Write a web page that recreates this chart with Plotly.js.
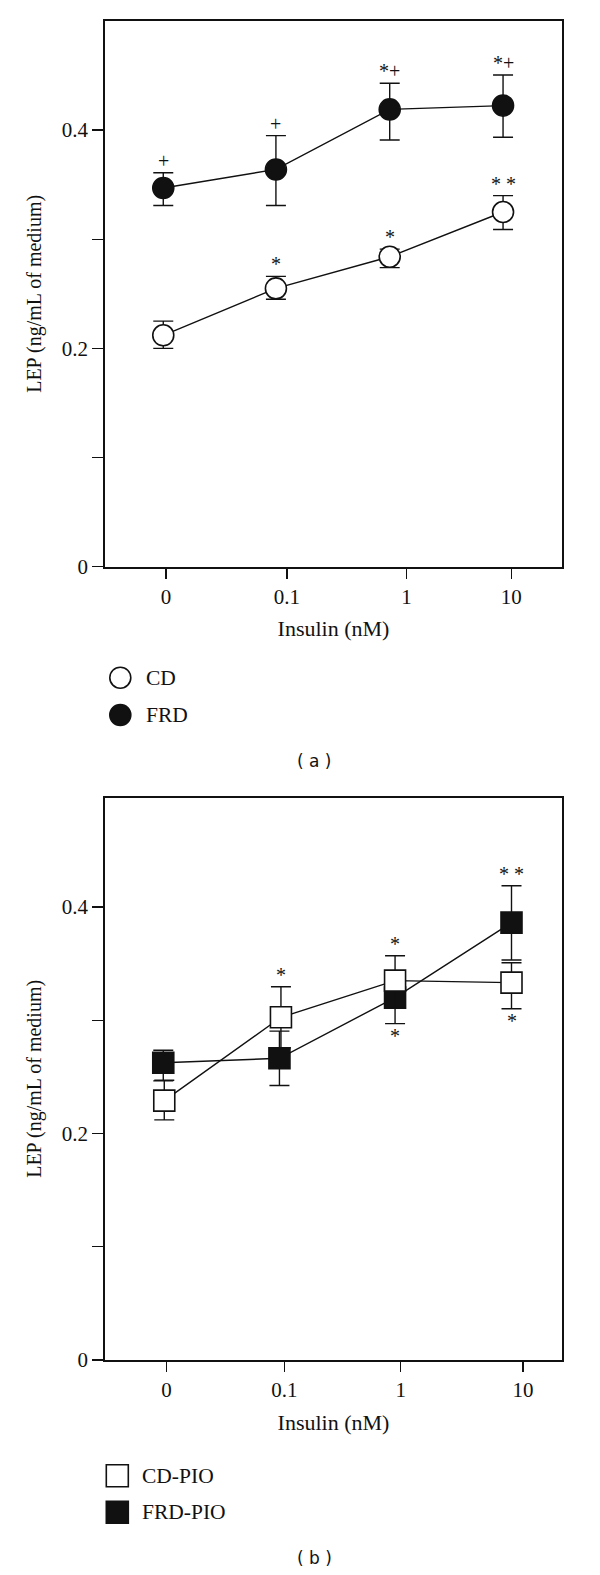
<!DOCTYPE html>
<html><head><meta charset="utf-8">
<script src="https://cdn.plot.ly/plotly-3.0.1.min.js"></script>
<style>body{margin:0;background:#fff}#chart{width:600px;height:1575px}</style>
</head><body><div id="chart"></div>
<script>
// ---------- data ----------
const doseLabels = ['0', '0.1', '1', '10'];
// positions of the dose categories on the (non-uniform) dose axis, in axis units
const tickPosA = [0.1334, 0.398, 0.6597, 0.889];
const xPosA = [0.1275, 0.374, 0.623, 0.871];
const tickPosB = [0.1347, 0.3924, 0.6472, 0.9148];
const xPosB_CD = [0.1297, 0.385, 0.6347, 0.8895];
const xPosB_FRD = [0.1275, 0.3817, 0.6347, 0.8895];

// panel (a)
const cdMean = [0.212, 0.255, 0.284, 0.325];
const cdErrUp = [0.013, 0.011, 0.007, 0.015];
const cdErrDown = [0.012, 0.010, 0.010, 0.016];
const frdMean = [0.347, 0.364, 0.419, 0.4225];
const frdErrUp = [0.014, 0.031, 0.024, 0.028];
const frdErrDown = [0.016, 0.033, 0.028, 0.029];
const cdSigAbove = ['', '*', '*', '* *'];
const frdSigAbove = ['+', '+', '*+', '*+'];

// panel (b)
const cdPioMean = [0.229, 0.3026, 0.335, 0.3332];
const cdPioErrUp = [0.018, 0.027, 0.022, 0.0176];
const cdPioErrDown = [0.017, 0.027, 0.0245, 0.023];
const frdPioMean = [0.2625, 0.2664, 0.320, 0.3862];
const frdPioErrUp = [0.011, 0.024, 0.023, 0.0326];
const frdPioErrDown = [0.016, 0.024, 0.023, 0.033];
const cdPioSigAbove = ['', '*', '*', ''];
const cdPioSigBelow = ['', '', '', '*'];
const frdPioSigAbove = ['', '', '', '* *'];
const frdPioSigBelow = ['', '', '*', ''];

const yTickVals = [0, 0.1, 0.2, 0.3, 0.4];
const yTickText = ['0', '', '0.2', '', '0.4'];
const namesA = ['CD', 'FRD'];
const namesB = ['CD-PIO', 'FRD-PIO'];

// ---------- layout constants ----------
const W = 600, H = 1575, ML = 105, MR = 38, MT = 21, MB = 215;
const PW = W - ML - MR, PH = H - MT - MB;
const px = v => (v - ML) / PW;          // pixel x -> paper
const py = v => (H - MB - v) / PH;      // pixel y -> paper
const SERIF = "'Liberation Serif', 'Times New Roman', serif";
const BLACK = '#111';

function lineTrace(x, y, up, down, xa, ya) {
  return {
    x: x, y: y, xaxis: xa, yaxis: ya, mode: 'lines', showlegend: false, hoverinfo: 'skip',
    line: {color: BLACK, width: 1.4},
    error_y: {type: 'data', symmetric: false, array: up, arrayminus: down,
              color: BLACK, thickness: 1.4, width: 10}
  };
}
function markerTrace(x, y, xa, ya, symbol, fill, name) {
  return {
    x: x, y: y, xaxis: xa, yaxis: ya, mode: 'markers', name: name, showlegend: false,
    marker: {symbol: symbol, size: 21, color: fill, line: {color: BLACK, width: 1.6}}
  };
}
function sigAnn(xs, ys, errs, labels, xa, ya, dir) {
  const out = [];
  labels.forEach((t, i) => {
    if (!t) return;
    out.push({x: xs[i], y: ys[i] + dir * errs[i], xref: xa, yref: ya, text: t,
              showarrow: false, yanchor: 'middle', yshift: dir * 12,
              font: {family: SERIF, size: 20, color: BLACK}});
  });
  return out;
}

const traces = [
  lineTrace(xPosA, cdMean, cdErrUp, cdErrDown, 'x', 'y'),
  markerTrace(xPosA, cdMean, 'x', 'y', 'circle', '#fff', namesA[0]),
  lineTrace(xPosA, frdMean, frdErrUp, frdErrDown, 'x', 'y'),
  markerTrace(xPosA, frdMean, 'x', 'y', 'circle', BLACK, namesA[1]),
  lineTrace(xPosB_FRD, frdPioMean, frdPioErrUp, frdPioErrDown, 'x2', 'y2'),
  markerTrace(xPosB_FRD, frdPioMean, 'x2', 'y2', 'square', BLACK, namesB[1]),
  lineTrace(xPosB_CD, cdPioMean, cdPioErrUp, cdPioErrDown, 'x2', 'y2'),
  markerTrace(xPosB_CD, cdPioMean, 'x2', 'y2', 'square', '#fff', namesB[0])
];

function xAxis(ticks, anchor) {
  return {
    domain: [0, 1], range: [0, 1], anchor: anchor, showgrid: false, zeroline: false,
    showline: true, mirror: true, linecolor: BLACK, linewidth: 1.9,
    ticks: 'outside', ticklen: 10, tickwidth: 1.4, tickcolor: BLACK,
    tickmode: 'array', tickvals: ticks, ticktext: doseLabels,
    tickfont: {family: SERIF, size: 21, color: BLACK},
    title: {text: 'Insulin (nM)', font: {family: SERIF, size: 22, color: BLACK}, standoff: 13}
  };
}
function yAxis(domain, range, anchor) {
  return {
    domain: domain, range: range, anchor: anchor, showgrid: false, zeroline: false,
    showline: true, mirror: true, linecolor: BLACK, linewidth: 1.9,
    ticks: 'outside', ticklen: 11, tickwidth: 1.4, tickcolor: BLACK,
    tickmode: 'array', tickvals: yTickVals, ticktext: yTickText,
    tickfont: {family: SERIF, size: 21, color: BLACK},
    title: {text: 'LEP (ng/mL of medium)', font: {family: SERIF, size: 20, color: BLACK}, standoff: 15}
  };
}

// manual legends (symbols + labels)
const legendShapes = [];
const legendAnns = [];
function legendItem(cx, cy, shape, fill, label, size, textX) {
  const r = size / 2;
  legendShapes.push({type: shape, xref: 'paper', yref: 'paper',
    x0: px(cx - r), x1: px(cx + r), y0: py(cy + r), y1: py(cy - r),
    fillcolor: fill, line: {color: BLACK, width: 1.6}});
  legendAnns.push({xref: 'paper', yref: 'paper', x: px(textX), y: py(cy), text: label,
    showarrow: false, xanchor: 'left', yanchor: 'middle',
    font: {family: SERIF, size: 21.5, color: BLACK}});
}
legendItem(120.3, 677.7, 'circle', '#fff', namesA[0], 21, 144);
legendItem(120.3, 715, 'circle', BLACK, namesA[1], 21, 144);
legendItem(117.3, 1475.7, 'rect', '#fff', namesB[0], 22, 139.5);
legendItem(117.3, 1512.3, 'rect', BLACK, namesB[1], 22, 139.5);

const panelFont = {family: "'DejaVu Sans', sans-serif", size: 17, color: BLACK};
const panelAnns = [
  {xref: 'paper', yref: 'paper', x: px(314), y: py(761), text: '( a )', showarrow: false,
   xanchor: 'center', yanchor: 'middle', font: panelFont},
  {xref: 'paper', yref: 'paper', x: px(314), y: py(1558), text: '( b )', showarrow: false,
   xanchor: 'center', yanchor: 'middle', font: panelFont}
];

const annotations = [].concat(
  sigAnn(xPosA, cdMean, cdErrUp, cdSigAbove, 'x', 'y', 1),
  sigAnn(xPosA, frdMean, frdErrUp, frdSigAbove, 'x', 'y', 1),
  sigAnn(xPosB_CD, cdPioMean, cdPioErrUp, cdPioSigAbove, 'x2', 'y2', 1),
  sigAnn(xPosB_CD, cdPioMean, cdPioErrDown, cdPioSigBelow, 'x2', 'y2', -1),
  sigAnn(xPosB_FRD, frdPioMean, frdPioErrUp, frdPioSigAbove, 'x2', 'y2', 1),
  sigAnn(xPosB_FRD, frdPioMean, frdPioErrDown, frdPioSigBelow, 'x2', 'y2', -1),
  legendAnns, panelAnns
);

const layout = {
  width: W, height: H, margin: {l: ML, r: MR, t: MT, b: MB, pad: 0},
  paper_bgcolor: '#fff', plot_bgcolor: '#fff', showlegend: false,
  xaxis: xAxis(tickPosA, 'y'),
  yaxis: yAxis([py(566.7), 1], [0, 0.5], 'x'),
  xaxis2: xAxis(tickPosB, 'y2'),
  yaxis2: yAxis([0, py(797.7)], [0, 0.4965], 'x2'),
  annotations: annotations,
  shapes: legendShapes
};

Plotly.newPlot('chart', traces, layout, {staticPlot: true, displayModeBar: false});
</script></body></html>
